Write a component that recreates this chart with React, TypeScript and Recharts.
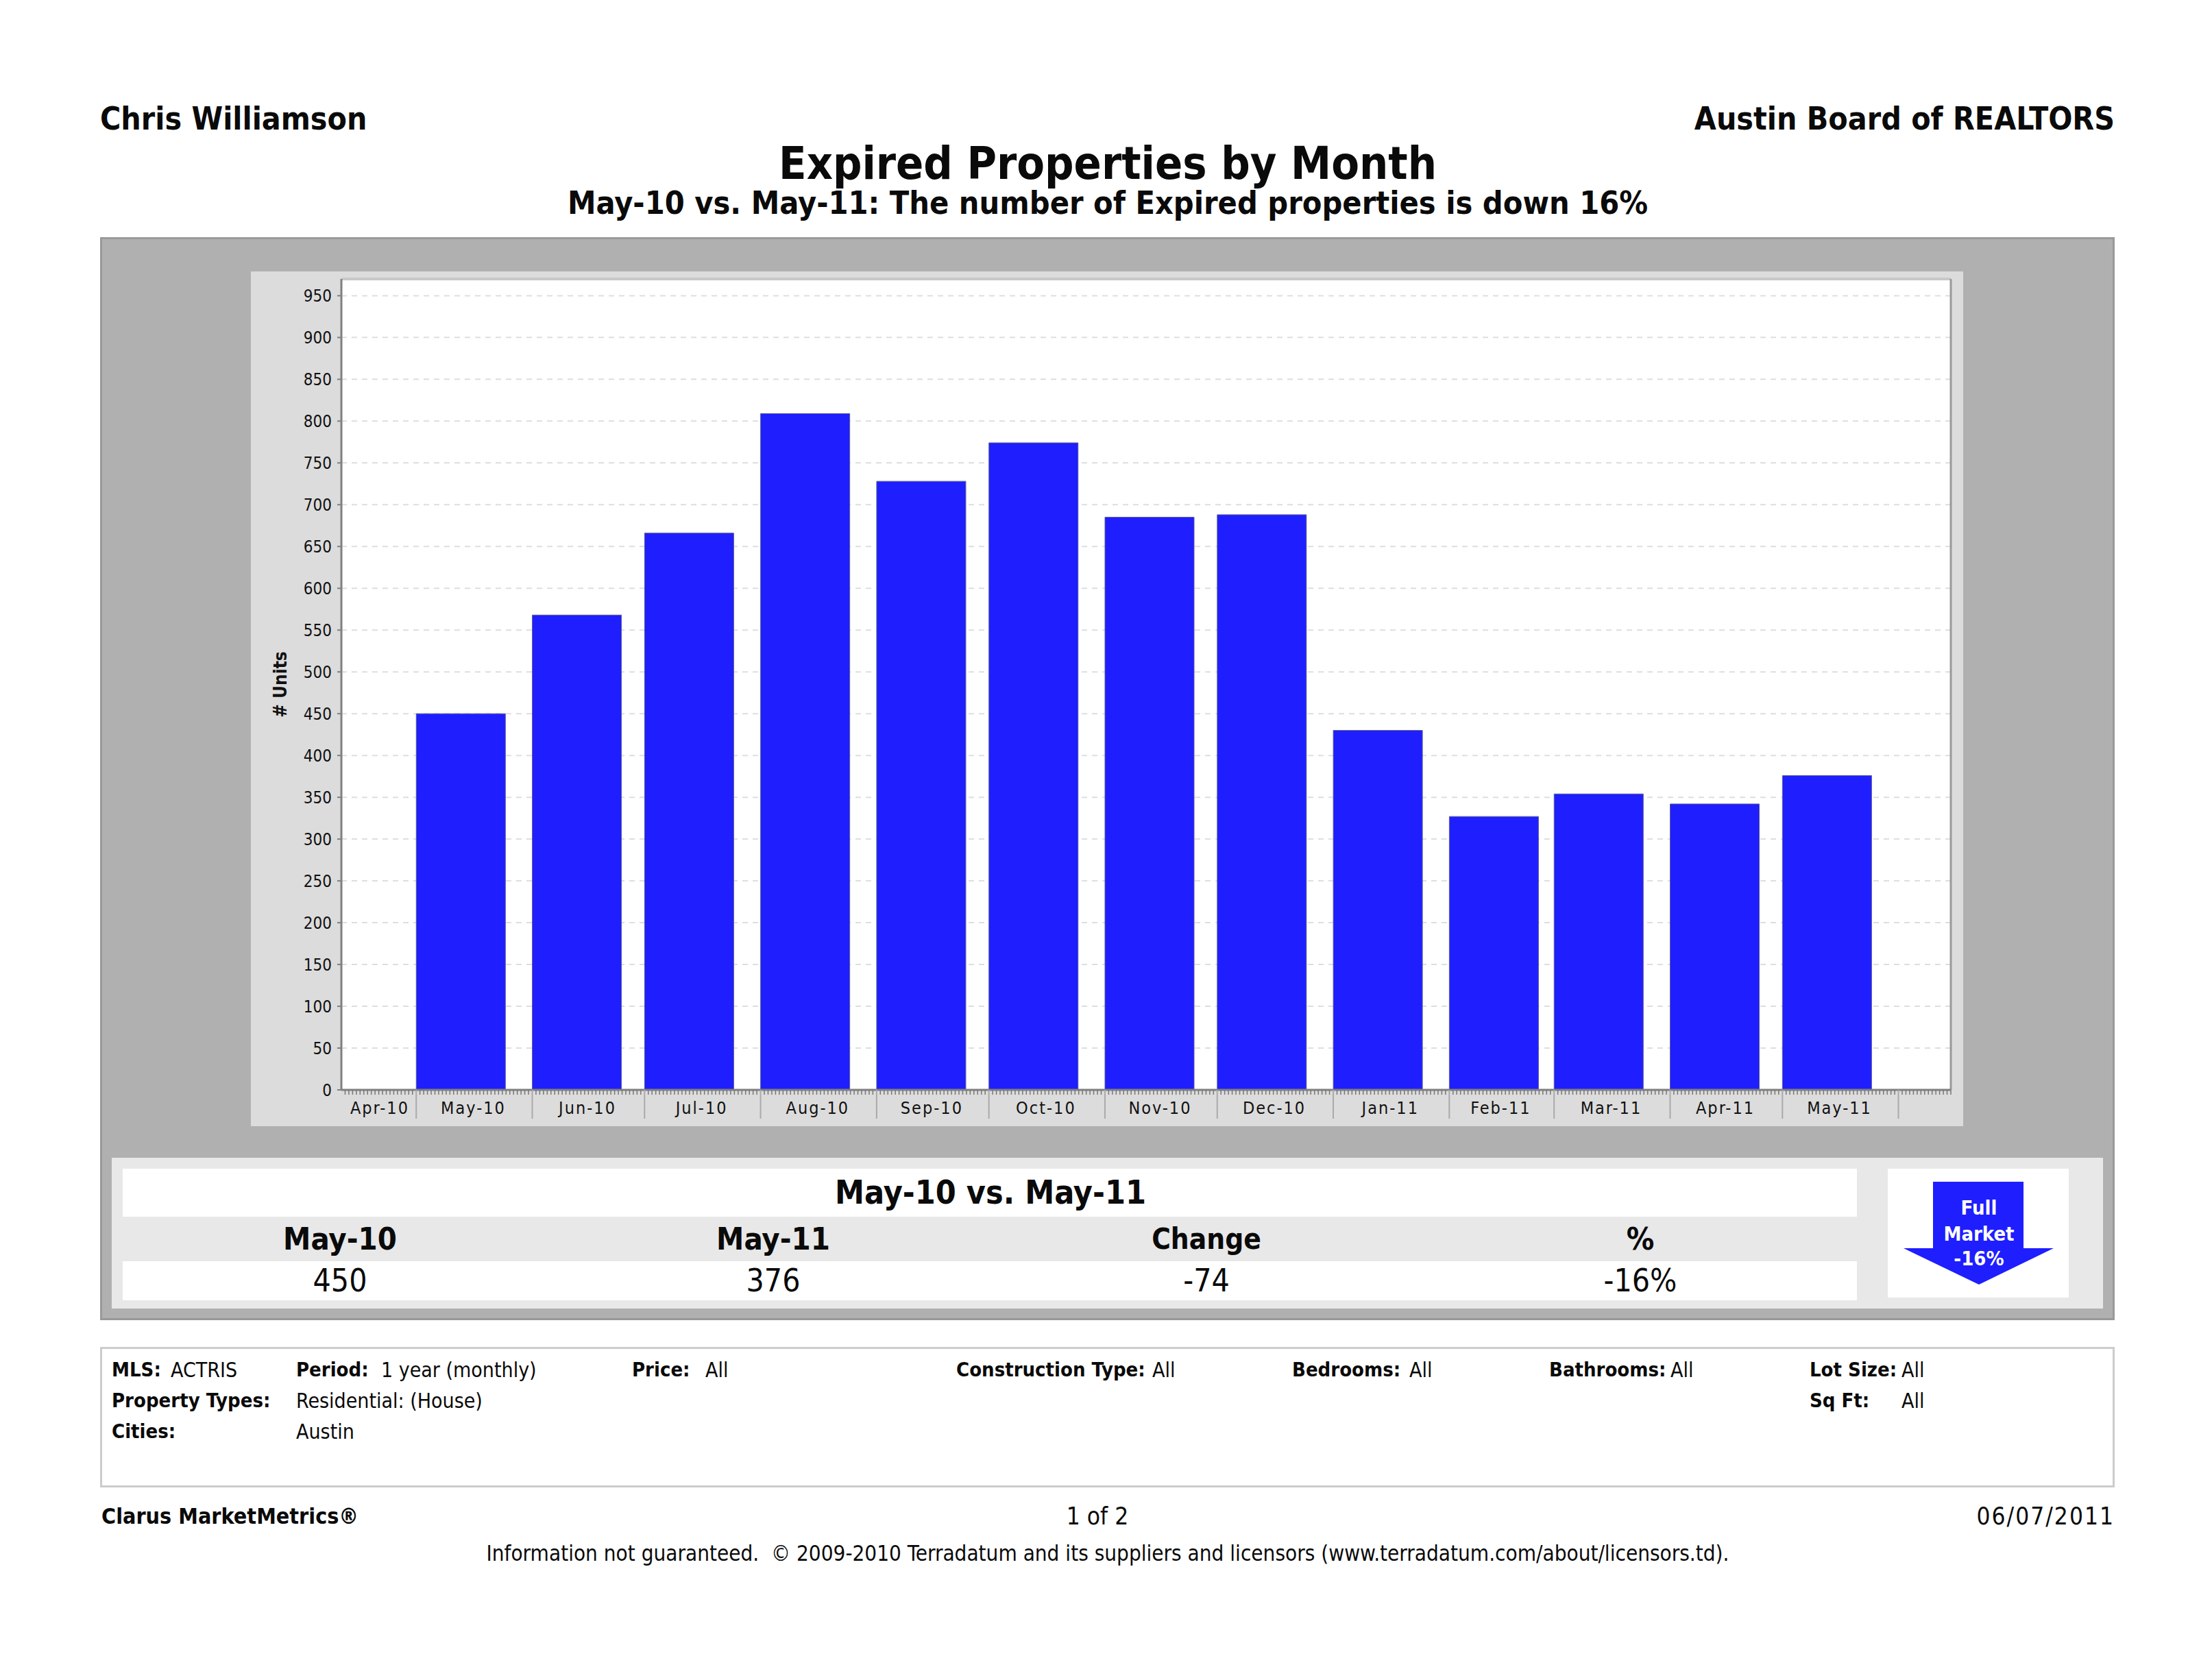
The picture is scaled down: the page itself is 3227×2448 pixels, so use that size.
import React from 'react';
import { BarChart, Bar, XAxis, YAxis, CartesianGrid, ReferenceLine } from 'recharts';

const FONT = '"DejaVu Sans Condensed", "DejaVu Sans", sans-serif';

const months = ['May-10', 'Jun-10', 'Jul-10', 'Aug-10', 'Sep-10', 'Oct-10', 'Nov-10', 'Dec-10', 'Jan-11', 'Feb-11', 'Mar-11', 'Apr-11', 'May-11'];
const monthStarts = ['2010-05-01', '2010-06-01', '2010-07-01', '2010-08-01', '2010-09-01', '2010-10-01', '2010-11-01', '2010-12-01', '2011-01-01', '2011-02-01', '2011-03-01', '2011-04-01', '2011-05-01', '2011-06-01'];
const expired = [450, 568, 666, 809, 728, 774, 685, 688, 430, 327, 354, 342, 376];
const yTicks = [0, 50, 100, 150, 200, 250, 300, 350, 400, 450, 500, 550, 600, 650, 700, 750, 800, 850, 900, 950];

// the axis is a date axis: days counted from where the plot starts
const AXIS_START = Date.UTC(2010, 3, 11);
const AXIS_DAYS = 430;
const Y_MAX = 970;
const toDay = (iso: string) => (Date.parse(iso) - AXIS_START) / 86400000;

const startDays = monthStarts.map(toDay);
const data = months.map((month, i) => ({ month, day: startDays[i] + 12, units: expired[i] }));

const dayTicks = Array.from({ length: AXIS_DAYS }, (_, i) => i + 1);
const labelTicks = new Map<number, string>();
labelTicks.set(startDays[0] / 2 + 0.25, 'Apr-10');
months.forEach((m, i) => labelTicks.set((startDays[i] + startDays[i + 1]) / 2 - 0.25, m));
const xTicks = [...dayTicks, ...labelTicks.keys()];

function DateTick({ x, y, payload }: any) {
  const label = labelTicks.get(payload.value);
  if (label) {
    return (
      <text x={x} y={y + 35} textAnchor="middle" fontSize={25} letterSpacing={2} fontFamily={FONT} fill="#111">
        {label}
      </text>
    );
  }
  const isMonth = startDays.includes(payload.value);
  return isMonth ? (
    <line x1={x} x2={x} y1={y} y2={y + 42} stroke="#aaa" strokeWidth={2} />
  ) : (
    <line x1={x} x2={x} y1={y} y2={y + 7} stroke="#777" strokeWidth={1.5} />
  );
}

function UnitsLabel({ viewBox }: any) {
  const cx = viewBox.x + 44;
  const cy = viewBox.y + viewBox.height / 2;
  return (
    <text transform={`rotate(-90 ${cx} ${cy})`} x={cx} y={cy} dy={8} textAnchor="middle" fontSize={26} fontWeight="bold" fontFamily={FONT} fill="#111">
      # Units
    </text>
  );
}

function Txt({ x, y, size = 30, bold = false, anchor = 'start', spacing = 0, children }: any) {
  const shift = anchor === 'middle' ? '-50%' : anchor === 'end' ? '-100%' : '0';
  return (
    <div
      style={{
        position: 'absolute',
        left: x,
        top: y,
        transform: `translate(${shift}, -50%)`,
        fontFamily: FONT,
        fontSize: size,
        fontWeight: bold ? 'bold' : 'normal',
        letterSpacing: spacing,
        color: '#0a0a0a',
        whiteSpace: 'pre',
      }}
    >
      {children}
    </div>
  );
}

function Box({ x, y, w, h, style }: any) {
  return <div style={{ position: 'absolute', left: x, top: y, width: w, height: h, boxSizing: 'border-box', ...style }} />;
}

export default function App() {
  return (
    <div style={{ position: 'absolute', left: 0, top: 0, width: 3227, height: 2448, background: '#fff', overflow: 'hidden' }}>
      <Txt x={146} y={173} size={46} bold>Chris Williamson</Txt>
      <Txt x={3085} y={173} size={46} bold anchor="end">Austin Board of REALTORS</Txt>
      <Txt x={1616} y={238} size={66} bold anchor="middle">Expired Properties by Month</Txt>
      <Txt x={1616} y={296} size={46.4} bold anchor="middle">May-10 vs. May-11: The number of Expired properties is down 16%</Txt>

      <Box x={146} y={346} w={2939} h={1580} style={{ background: '#b0b0b0', border: '3px solid #999' }} />
      <div style={{ position: 'absolute', left: 366, top: 396 }}>
        <BarChart
          width={2498}
          height={1247}
          data={data}
          margin={{ top: 11, right: 18, left: 0, bottom: 0 }}
          style={{ background: '#dcdcdc' }}
        >
          <CartesianGrid vertical={false} fill="#fff" stroke="#dedede" strokeWidth={2} strokeDasharray="8 7" />
          <XAxis
            type="number"
            dataKey="day"
            domain={[0, AXIS_DAYS]}
            ticks={xTicks}
            interval={0}
            height={53}
            tick={<DateTick />}
            tickLine={false}
            tickSize={0}
            tickMargin={0}
            axisLine={{ stroke: '#808080', strokeWidth: 3 }}
          />
          <YAxis
            type="number"
            domain={[0, Y_MAX]}
            ticks={yTicks}
            interval={0}
            width={132}
            tick={{ fontSize: 24, fontFamily: FONT, fill: '#111' }}
            tickLine={{ stroke: '#808080', strokeWidth: 2 }}
            tickSize={6}
            tickMargin={8}
            axisLine={{ stroke: '#808080', strokeWidth: 3 }}
            label={<UnitsLabel />}
          />
          <ReferenceLine y={Y_MAX} stroke="#c8c8c8" strokeWidth={4} />
          <ReferenceLine x={AXIS_DAYS} stroke="#999" strokeWidth={3} />
          <Bar dataKey="units" barSize={130} fill="#1e1eff" stroke="#5a5a9a" strokeWidth={1} isAnimationActive={false} />
        </BarChart>
      </div>

      <Box x={163} y={1689} w={2905} h={220} style={{ background: '#e8e8e8' }} />
      <Box x={179} y={1705} w={2530} h={70} style={{ background: '#fff' }} />
      <Box x={179} y={1840} w={2530} h={57} style={{ background: '#fff' }} />
      <Box x={2754} y={1705} w={264} h={188} style={{ background: '#fff' }} />
      <svg style={{ position: 'absolute', left: 2754, top: 1705 }} width={264} height={188}>
        <polygon points="66,19 198,19 198,116 242,116 133,169 23,116 66,116" fill="#1e1eff" />
        <g fontFamily={FONT} fontWeight="bold" fontSize={29} fill="#fff" textAnchor="middle">
          <text x={133} y={67}>Full</text>
          <text x={133} y={105}>Market</text>
          <text x={133} y={141}>-16%</text>
        </g>
      </svg>

      <Txt x={1445} y={1739} size={48} bold anchor="middle">May-10 vs. May-11</Txt>
      <Txt x={496} y={1807} size={45} bold anchor="middle">May-10</Txt>
      <Txt x={1128} y={1807} size={45} bold anchor="middle">May-11</Txt>
      <Txt x={1760} y={1807} size={42} bold anchor="middle">Change</Txt>
      <Txt x={2393} y={1807} size={45} bold anchor="middle">%</Txt>
      <Txt x={496} y={1868} size={46} anchor="middle">450</Txt>
      <Txt x={1128} y={1868} size={46} anchor="middle">376</Txt>
      <Txt x={1760} y={1868} size={46} anchor="middle">-74</Txt>
      <Txt x={2393} y={1868} size={46} anchor="middle">-16%</Txt>

      <Box x={146} y={1965} w={2939} h={205} style={{ border: '3px solid #ccc' }} />
      <Txt x={163} y={1998} size={29} bold>MLS:</Txt>
      <Txt x={249} y={1998}>ACTRIS</Txt>
      <Txt x={432} y={1998} size={29} bold>Period:</Txt>
      <Txt x={556} y={1998}>1 year (monthly)</Txt>
      <Txt x={922} y={1998} size={29} bold>Price:</Txt>
      <Txt x={1029} y={1998}>All</Txt>
      <Txt x={1395} y={1998} size={29} bold>Construction Type:</Txt>
      <Txt x={1681} y={1998}>All</Txt>
      <Txt x={1885} y={1998} size={29} bold>Bedrooms:</Txt>
      <Txt x={2056} y={1998}>All</Txt>
      <Txt x={2260} y={1998} size={29} bold>Bathrooms:</Txt>
      <Txt x={2437} y={1998}>All</Txt>
      <Txt x={2640} y={1998} size={29} bold>Lot Size:</Txt>
      <Txt x={2774} y={1998}>All</Txt>
      <Txt x={163} y={2043} size={29} bold>Property Types:</Txt>
      <Txt x={432} y={2043}>Residential: (House)</Txt>
      <Txt x={2640} y={2043} size={29} bold>Sq Ft:</Txt>
      <Txt x={2774} y={2043}>All</Txt>
      <Txt x={163} y={2088} size={29} bold>Cities:</Txt>
      <Txt x={432} y={2088}>Austin</Txt>

      <Txt x={148} y={2212} size={32} bold>Clarus MarketMetrics®</Txt>
      <Txt x={1601} y={2212} size={35} anchor="middle">1 of 2</Txt>
      <Txt x={3085} y={2212} size={35} spacing={2} anchor="end">06/07/2011</Txt>
      <Txt x={1616} y={2266} size={31.2} anchor="middle">Information not guaranteed.  © 2009-2010 Terradatum and its suppliers and licensors (www.terradatum.com/about/licensors.td).</Txt>
    </div>
  );
}
